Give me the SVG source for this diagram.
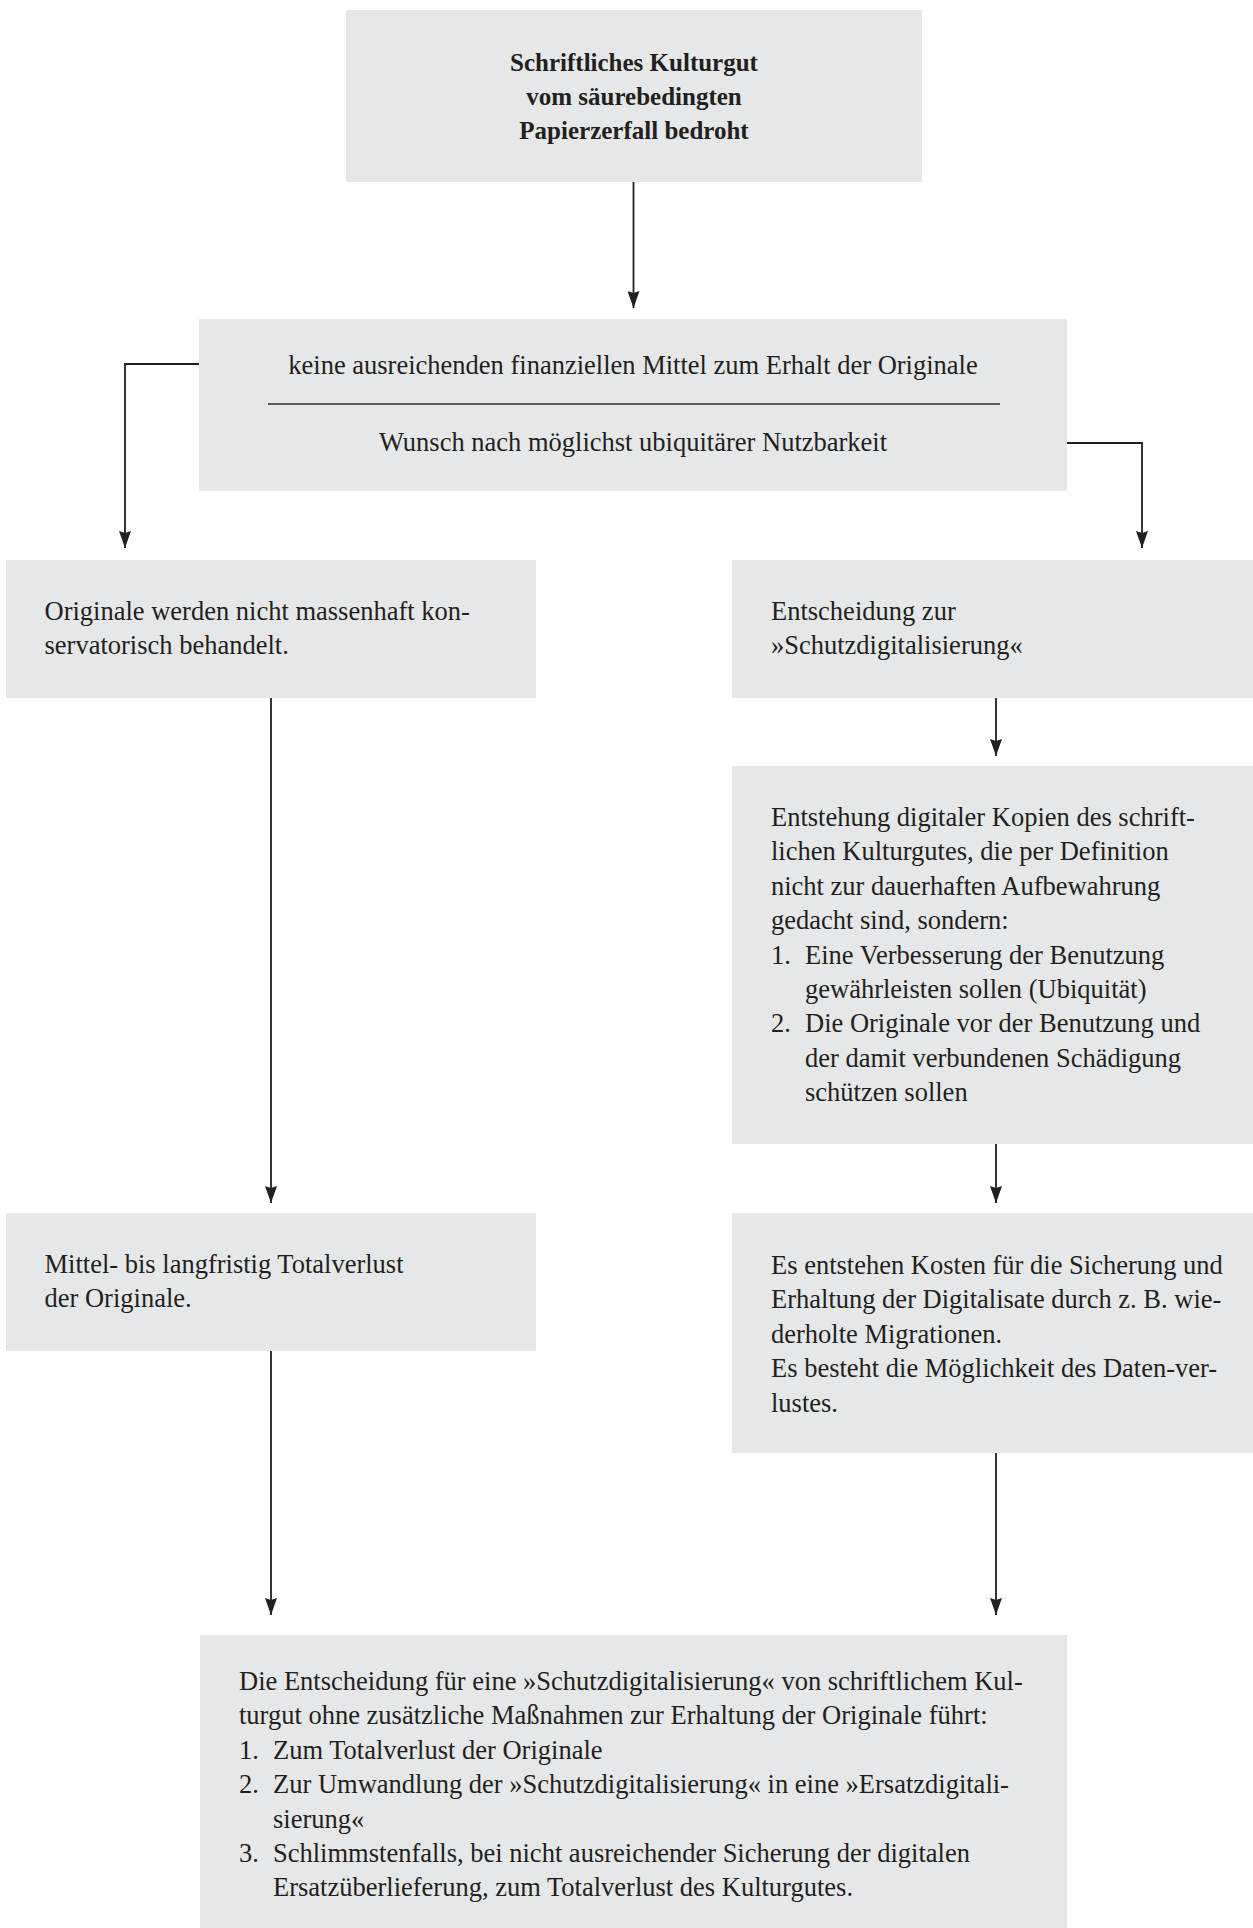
<svg xmlns="http://www.w3.org/2000/svg" width="1253" height="1928" viewBox="0 0 1253 1928">
<defs>
<style>
.box{fill:#e6e7e8;}
.t{font-family:"Liberation Serif","Times New Roman",serif;font-size:26.5px;fill:#231f20;}
.b{font-family:"Liberation Serif","Times New Roman",serif;font-size:25px;font-weight:bold;fill:#231f20;text-anchor:middle;}
.c{text-anchor:middle;}
.conn{fill:none;stroke:#231f20;stroke-width:1.8;}
</style>
<marker id="ah" viewBox="0 0 17 12" refX="17" refY="6" markerWidth="17" markerHeight="12" markerUnits="userSpaceOnUse" orient="auto">
<path d="M0,0 L17,6 L0,12 L2,6 Z" fill="#231f20"/>
</marker>
</defs>
<rect width="1253" height="1928" fill="#ffffff"/>

<g id="connectors">
<path class="conn" d="M633.5,182 V308" marker-end="url(#ah)"/>
<path class="conn" d="M199,364 H125 V548" marker-end="url(#ah)"/>
<path class="conn" d="M1067,443 H1142 V548" marker-end="url(#ah)"/>
<path class="conn" d="M271,698 V1203" marker-end="url(#ah)"/>
<path class="conn" d="M996,698 V756" marker-end="url(#ah)"/>
<path class="conn" d="M996,1144 V1203" marker-end="url(#ah)"/>
<path class="conn" d="M271,1351 V1615" marker-end="url(#ah)"/>
<path class="conn" d="M996,1453 V1615" marker-end="url(#ah)"/>
</g>

<g id="node-top">
<rect class="box" x="346" y="10" width="576" height="172"/>
<text class="b" x="634" y="71">Schriftliches Kulturgut</text>
<text class="b" x="634" y="105">vom säurebedingten</text>
<text class="b" x="634" y="139">Papierzerfall bedroht</text>
</g>

<g id="node-reasons">
<rect class="box" x="199" y="319" width="868" height="172"/>
<text class="t c" x="633" y="374">keine ausreichenden finanziellen Mittel zum Erhalt der Originale</text>
<line x1="268" y1="404" x2="1000" y2="404" stroke="#58595b" stroke-width="2"/>
<text class="t c" x="633" y="451">Wunsch nach möglichst ubiquitärer Nutzbarkeit</text>
</g>

<g id="node-left1">
<rect class="box" x="6" y="560" width="530" height="138"/>
<text class="t" x="44.5" y="620">Originale werden nicht massenhaft kon-</text>
<text class="t" x="44.5" y="654">servatorisch behandelt.</text>
</g>

<g id="node-right1">
<rect class="box" x="732" y="560" width="521" height="138"/>
<text class="t" x="771" y="620">Entscheidung zur</text>
<text class="t" x="771" y="654">»Schutzdigitalisierung«</text>
</g>

<g id="node-right2">
<rect class="box" x="732" y="766" width="521" height="378"/>
<text class="t" x="771" y="826">Entstehung digitaler Kopien des schrift-</text>
<text class="t" x="771" y="860.4">lichen Kulturgutes, die per Definition</text>
<text class="t" x="771" y="894.8">nicht zur dauerhaften Aufbewahrung</text>
<text class="t" x="771" y="929.2">gedacht sind, sondern:</text>
<text class="t" x="771" y="963.6">1.</text>
<text class="t" x="805" y="963.6">Eine Verbesserung der Benutzung</text>
<text class="t" x="805" y="998">gewährleisten sollen (Ubiquität)</text>
<text class="t" x="771" y="1032.4">2.</text>
<text class="t" x="805" y="1032.4">Die Originale vor der Benutzung und</text>
<text class="t" x="805" y="1066.8">der damit verbundenen Schädigung</text>
<text class="t" x="805" y="1101.2">schützen sollen</text>
</g>

<g id="node-left2">
<rect class="box" x="6" y="1213" width="530" height="138"/>
<text class="t" x="44.5" y="1273">Mittel- bis langfristig Totalverlust</text>
<text class="t" x="44.5" y="1307">der Originale.</text>
</g>

<g id="node-right3">
<rect class="box" x="732" y="1213" width="521" height="240"/>
<text class="t" x="771" y="1274">Es entstehen Kosten für die Sicherung und</text>
<text class="t" x="771" y="1308.4">Erhaltung der Digitalisate durch z. B. wie-</text>
<text class="t" x="771" y="1342.8">derholte Migrationen.</text>
<text class="t" x="771" y="1377.2">Es besteht die Möglichkeit des Daten-ver-</text>
<text class="t" x="771" y="1411.6">lustes.</text>
</g>

<g id="node-bottom">
<rect class="box" x="200" y="1635" width="867" height="293"/>
<text class="t" x="239" y="1690">Die Entscheidung für eine »Schutzdigitalisierung« von schriftlichem Kul-</text>
<text class="t" x="239" y="1724.4">turgut ohne zusätzliche Maßnahmen zur Erhaltung der Originale führt:</text>
<text class="t" x="239" y="1758.8">1.</text>
<text class="t" x="273" y="1758.8">Zum Totalverlust der Originale</text>
<text class="t" x="239" y="1793.2">2.</text>
<text class="t" x="273" y="1793.2">Zur Umwandlung der »Schutzdigitalisierung« in eine »Ersatzdigitali-</text>
<text class="t" x="273" y="1827.6">sierung«</text>
<text class="t" x="239" y="1862">3.</text>
<text class="t" x="273" y="1862">Schlimmstenfalls, bei nicht ausreichender Sicherung der digitalen</text>
<text class="t" x="273" y="1896.4">Ersatzüberlieferung, zum Totalverlust des Kulturgutes.</text>
</g>
</svg>
